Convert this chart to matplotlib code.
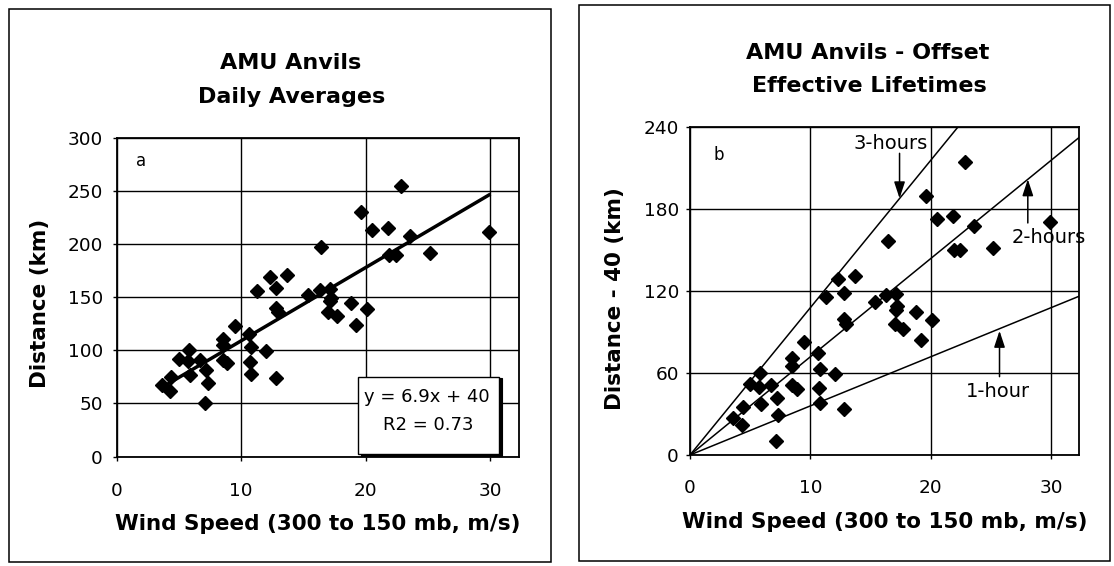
import matplotlib
matplotlib.use("Agg")
import matplotlib.pyplot as plt
from matplotlib.patches import Rectangle
import numpy as np

# ---------------- data ----------------
wind_speed = [22.8, 19.6, 20.5, 21.8, 23.6, 29.9, 21.9, 22.4, 25.2, 16.4,
              12.3, 13.7, 11.3, 12.8, 15.4, 16.3, 17.1, 17.2, 17.1, 18.8,
              20.1, 17.0, 17.7, 19.2, 12.8, 12.95, 9.5, 10.6, 8.5, 8.5,
              5.8, 5.0, 5.7, 6.7, 8.5, 8.9, 10.8, 12.0, 10.7, 10.8,
              12.8, 5.9, 7.2, 4.4, 3.6, 4.3, 7.3, 7.1]
distance_km = [255, 230, 213, 215, 208, 211, 190, 190, 192, 197,
               169, 171, 156, 159, 152, 157, 158, 149, 146, 145,
               139, 136, 132, 124, 140, 136, 123, 115, 111, 105,
               100, 92, 90, 91, 91, 88, 103, 99, 89, 78,
               74, 77, 81.5, 75, 67, 62, 69, 50.5]
offset_km = 40
fit_slope = 6.9
fit_intercept = 40
fit_r2 = 0.73
km_per_ms_hour = 3.6
lifetime_hours = [3, 2, 1]
lifetime_labels = ["3-hours", "2-hours", "1-hour"]
xticks = [0, 10, 20, 30]
yticks_a = [0, 50, 100, 150, 200, 250, 300]
yticks_b = [0, 60, 120, 180, 240]

# ---------------- figure ----------------
W, H = 1114, 566
fig = plt.figure(figsize=(W / 100, H / 100), dpi=100)


def px_rect(x0, y0, x1, y1):
    return [x0 / W, 1 - y1 / H, (x1 - x0) / W, (y1 - y0) / H]


# panel frames
for (x0, y0, x1, y1) in [(8.7, 9, 550.7, 562), (579.3, 5.3, 1110, 561)]:
    l, b, w, h = px_rect(x0, y0, x1, y1)
    fig.patches.append(Rectangle((l, b), w, h, transform=fig.transFigure,
                                 fill=False, ec="black", lw=1.1))

ax_a = fig.add_axes(px_rect(116.7, 138, 518.8, 456.5))
ax_b = fig.add_axes(px_rect(690, 127.4, 1079, 455))

XMAX = 32.3


def style(ax, ylim, yticks, xpad, ypad):
    ax.set_xlim(0, XMAX)
    ax.set_ylim(*ylim)
    ax.set_xticks(xticks)
    ax.set_yticks(yticks)
    ax.grid(True, color="black", lw=1.0)
    ax.set_axisbelow(True)
    for s in ax.spines.values():
        s.set_linewidth(1.3)
        s.set_color("black")
    ax.tick_params(direction="out", length=3, width=1.0, labelsize=13.3,
                   colors="black")
    ax.tick_params(axis="x", pad=xpad)
    ax.tick_params(axis="y", pad=ypad)


style(ax_a, (0, 300), yticks_a, 15, 7)
style(ax_b, (0, 240), yticks_b, 14, 5)

# ---------- panel a ----------
ax_a.plot(wind_speed, distance_km, linestyle="none", marker="D",
          color="black", ms=6.7, zorder=3)
fx = np.array([min(wind_speed), max(wind_speed)])
ax_a.plot(fx, fit_slope * fx + fit_intercept, color="black", lw=2.5, zorder=4)
ax_a.text(0.060, 0.928, "a", transform=ax_a.transAxes, fontsize=12,
          ha="center", va="center")

# equation box with shadow
bx0, by0, bx1, by1 = 0.601, 0.008, 0.951, 0.251
ax_a.add_patch(Rectangle((bx0 + 0.007, by0 - 0.005), bx1 - bx0, by1 - by0,
                         transform=ax_a.transAxes, fc="black", ec="black",
                         lw=0.8, zorder=5, clip_on=False))
ax_a.add_patch(Rectangle((bx0, by0), bx1 - bx0, by1 - by0,
                         transform=ax_a.transAxes, fc="white", ec="black",
                         lw=1.0, zorder=6, clip_on=False))
ax_a.text(0.772, 0.187, f"y = {fit_slope}x + {fit_intercept}",
          transform=ax_a.transAxes, fontsize=13, ha="center", va="center",
          zorder=7)
ax_a.text(0.776, 0.099, f"R2 = {fit_r2}", transform=ax_a.transAxes,
          fontsize=13, ha="center", va="center", zorder=7)

ax_a.set_xlabel("Wind Speed (300 to 150 mb, m/s)", fontsize=15.5,
                fontweight="bold")
ax_a.xaxis.set_label_coords(0.5, -0.2104)
ax_a.xaxis.label.set_va("center")
ax_a.set_ylabel("Distance (km)", fontsize=15.5, fontweight="bold")
ax_a.yaxis.set_label_coords(-0.1915, 0.481)
ax_a.yaxis.label.set_va("center")

# ---------- panel b ----------
offset_dist = [d - offset_km for d in distance_km]
lx = np.array([0, XMAX])
for hrs in lifetime_hours:
    ax_b.plot(lx, lx * km_per_ms_hour * hrs, color="black", lw=1.1, zorder=2)
ax_b.plot(wind_speed, offset_dist, linestyle="none", marker="D",
          color="black", ms=7.2, zorder=3)
ax_b.text(0.0746, 0.916, "b", transform=ax_b.transAxes, fontsize=12,
          ha="center", va="center")

arrow_kw = dict(arrowstyle="-|>,head_length=1.0,head_width=0.33",
                color="black", lw=1.1, shrinkA=0, shrinkB=0)
# 3-hours
ax_b.text(16.7, 228, lifetime_labels[0], fontsize=14, ha="center", va="center")
ax_b.annotate("", xy=(17.4, 188), xytext=(17.4, 221), arrowprops=arrow_kw)
# 2-hours
ax_b.text(29.8, 159, lifetime_labels[1], fontsize=14, ha="center", va="center")
ax_b.annotate("", xy=(28.05, 202), xytext=(28.05, 170), arrowprops=arrow_kw)
# 1-hour
ax_b.text(25.6, 46.4, lifetime_labels[2], fontsize=14, ha="center", va="center")
ax_b.annotate("", xy=(25.7, 91), xytext=(25.7, 57.4), arrowprops=arrow_kw)

ax_b.set_xlabel("Wind Speed (300 to 150 mb, m/s)", fontsize=15.5,
                fontweight="bold")
ax_b.xaxis.set_label_coords(0.5, -0.2036)
ax_b.xaxis.label.set_va("center")
ax_b.set_ylabel("Distance - 40 (km)", fontsize=15.5, fontweight="bold")
ax_b.yaxis.set_label_coords(-0.1938, 0.479)
ax_b.yaxis.label.set_va("center")

# ---------- titles ----------
fig.text(291 / W, 1 - 69.3 / H, "AMU Anvils", fontsize=16, fontweight="bold",
         ha="center", va="baseline")
fig.text(291.5 / W, 1 - 103 / H, "Daily Averages", fontsize=16,
         fontweight="bold", ha="center", va="baseline")
fig.text(867.3 / W, 1 - 58.8 / H, "AMU Anvils - Offset", fontsize=16,
         fontweight="bold", ha="center", va="baseline")
fig.text(869 / W, 1 - 92 / H, "Effective Lifetimes", fontsize=16,
         fontweight="bold", ha="center", va="baseline")

fig.savefig("out.png", dpi=100, facecolor="white")
